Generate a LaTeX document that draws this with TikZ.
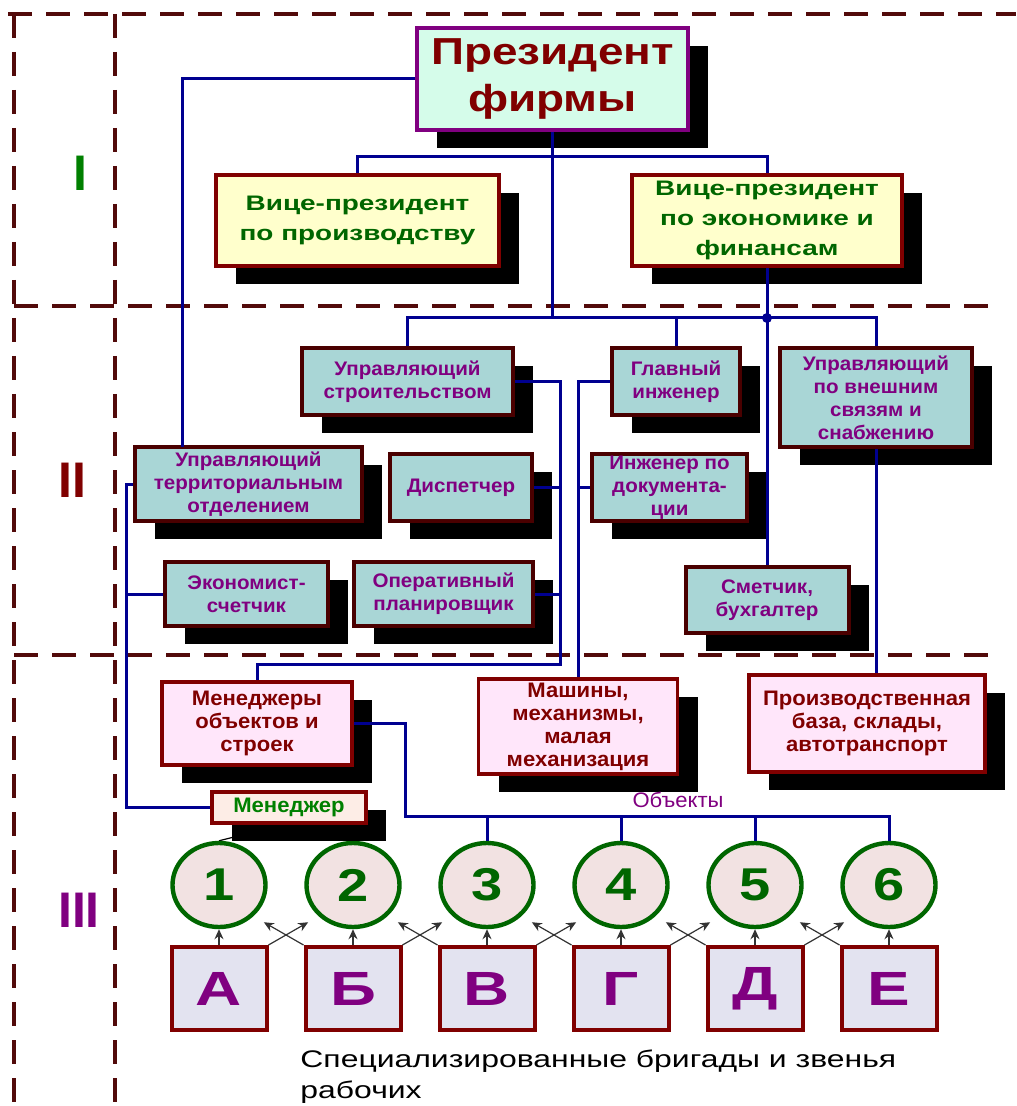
\documentclass[tikz,border=0pt]{standalone}
\usepackage{fontspec}
\setmainfont{Liberation Sans}
\newfontfamily\wideFont[FakeStretch=1.33]{Liberation Sans}
\newfontfamily\topFont[FakeStretch=1.22]{Liberation Sans}
\newfontfamily\midFont[FakeStretch=1.05]{Liberation Sans}
\usepackage{xcolor}
\definecolor{cFrame}{HTML}{520A0A}
\definecolor{cLink}{HTML}{000090}
\definecolor{cMint}{HTML}{D5FCEA}
\definecolor{cPurple}{HTML}{800080}
\definecolor{cDarkRed}{HTML}{800000}
\definecolor{cCream}{HTML}{FFFFCC}
\definecolor{cGreen}{HTML}{006600}
\definecolor{cLeaf}{HTML}{008000}
\definecolor{cTeal}{HTML}{A9D6D6}
\definecolor{cMaroon}{HTML}{4A0000}
\definecolor{cPink}{HTML}{FFE6FA}
\definecolor{cPeach}{HTML}{FDEDE6}
\definecolor{cBlush}{HTML}{F2E2E2}
\definecolor{cLav}{HTML}{E3E3F0}
\usepackage{tikz}
\usetikzlibrary{arrows.meta,shapes.geometric,shadows,backgrounds}
\tikzset{
  sz/.style 2 args={minimum width=#1*0.5pt,minimum height=#2*0.5pt},
  % all boxes carry the same solid black offset shadow
  node-base/.style={rectangle,align=center,inner sep=1pt,
    general shadow={fill=black,shadow xshift=10pt,shadow yshift=-9pt}},
  node-top/.style={node-base,draw=cPurple,line width=1.6pt,fill=cMint,text=cDarkRed,
    font=\topFont\bfseries\fontsize{18.8}{23.5}\selectfont},
  node-vp/.style={node-base,draw=cDarkRed,line width=2pt,fill=cCream,text=cGreen,
    font=\wideFont\bfseries\fontsize{10.5}{15}\selectfont},
  node-staff/.style={node-base,draw=cMaroon,line width=2pt,fill=cTeal,text=cPurple,
    font=\midFont\bfseries\fontsize{9.8}{11.5}\selectfont},
  node-unit/.style={node-base,draw=cDarkRed,line width=1.6pt,fill=cPink,text=cDarkRed,
    font=\midFont\bfseries\fontsize{10.5}{11.5}\selectfont},
  node-mgr/.style={node-base,draw=cDarkRed,line width=1.6pt,fill=cPeach,text=cLeaf,
    font=\midFont\bfseries\fontsize{10.5}{12}\selectfont},
  node-obj/.style={ellipse,draw=cGreen,line width=2.2pt,fill=cBlush,text=cGreen,inner sep=0pt,
    sz={93}{84},font=\topFont\bfseries\fontsize{23}{23}\selectfont},
  node-team/.style={rectangle,draw=cDarkRed,line width=2pt,fill=cLav,text=cPurple,
    sz={95}{83},font=\wideFont\bfseries\fontsize{24}{24}\selectfont},
  node-level/.style={font=\bfseries\fontsize{25}{25}\selectfont},
  frame/.style={draw=cFrame,line width=2pt,dash pattern=on 12pt off 7pt},
  link/.style={draw=cLink,line width=1.5pt},
  arrow-team/.style={-{Stealth[length=5pt,width=4.5pt]},draw=black!80,line width=0.6pt},
}

\begin{document}
\begin{tikzpicture}[x=0.5pt,y=-0.5pt]
  \useasboundingbox (0,0) rectangle (1016,1106);

  \draw[frame] (8,14) -- (1016,14);
  \draw[frame] (14,14) -- (14,1106);
  \draw[frame] (115,14) -- (115,1106);
  \draw[frame] (14,306) -- (995,306);
  \draw[frame] (14,655) -- (1000,655);

  \node[node-level,text=cLeaf] (lvl1) at (80,173) {I};
  \node[node-level,text=cDarkRed] (lvl2) at (72,480) {II};
  \node[node-level,text=cPurple] (lvl3) at (79,910) {III};

  % level I
  \node[node-top,sz={271}{102}] (pres) at (552.5,79) {Президент\\фирмы};
  \node[node-vp,sz={283}{91}] (vpProd) at (357.5,220.5) {Вице-президент\\по производству};
  \node[node-vp,sz={270}{91}] (vpEcon) at (767,220.5) {Вице-президент\\по экономике и\\финансам};

  % level II
  \node[node-staff,sz={211}{67}] (mgrBuild) at (407.5,381.5) {Управляющий\\строительством};
  \node[node-staff,sz={128}{67}] (chiefEng) at (676,381.5) {Главный\\инженер};
  \node[node-staff,sz={192}{99}] (mgrSupply) at (876,397.5) {Управляющий\\по внешним\\связям и\\снабжению};
  \node[node-staff,sz={227}{74}] (mgrTerr) at (248.5,484) {Управляющий\\территориальным\\отделением};
  \node[node-staff,sz={142}{67}] (dispatch) at (461,487.5) {Диспетчер};
  \node[node-staff,sz={155}{67}] (docEng) at (669.5,487.5) {Инженер по\\документа-\\ции};
  \node[node-staff,sz={163}{64}] (econ) at (246.5,594) {Экономист-\\счетчик};
  \node[node-staff,sz={179}{64}] (planner) at (443.5,594) {Оперативный\\планировщик};
  \node[node-staff,sz={163}{66}] (estim) at (767,600) {Сметчик,\\бухгалтер};

  % level III
  \node[node-unit,sz={190}{83}] (siteMgrs) at (257,723.5) {Менеджеры\\объектов и\\строек};
  \node[node-unit,sz={199}{95}] (machines) at (578,726.5) {Машины,\\механизмы,\\малая\\механизация};
  \node[node-unit,sz={236}{97}] (base) at (867,723.5) {Производственная\\база, склады,\\автотранспорт};
  \node[font=\midFont\fontsize{10.5}{12}\selectfont,text=cPurple] (objLabel) at (678,800) {Объекты};

  \foreach \i/\xx/\t in {1/219/А,2/353/Б,3/487/В,4/621/Г,5/755/Д,6/889/Е} {
    \node[node-obj] (o\i) at (\xx,885) {\i};
    \node[node-team] (t\i) at (\xx,988.5) {\t};
  }
  \begin{pgfonlayer}{background}
    \draw[black,line width=0.6pt] (o1.north) -- (289,823) -- (o2.north);
  \end{pgfonlayer}
  \node[node-mgr,sz={154}{31}] (mgr) at (289,807.5) {Менеджер};

  \node[anchor=north west,inner sep=0pt,align=left,
    font=\wideFont\fontsize{12}{15.5}\selectfont] (caption) at (300,1049)
    {Специализированные бригады и звенья\\рабочих};

  % links
  \coordinate (vpBus) at (552.5,157);
  \coordinate (busR) at (876,318);
  \coordinate (trunkA) at (560,664);
  \coordinate (trunkC) at (126,484);
  \coordinate (objBus) at (405,816);
  \coordinate (terrIn) at (182,447);
  \draw[link] (vpProd.north) |- (vpBus) -| (vpEcon.north);
  \draw[link] (pres.south) -- (pres.south |- busR);
  \draw[link] (mgrBuild.north) |- (busR) -- (mgrSupply.north);
  \draw[link] (chiefEng.north) -- (chiefEng.north |- busR);
  \draw[link] (vpEcon.south) -- (estim.north);
  \node[circle,fill=cLink,inner sep=0pt,minimum size=5pt] (jn) at (vpEcon.south |- busR) {};
  \draw[link] (pres.west) -| (terrIn);
  \draw[link] (mgrBuild.east) -| (trunkA) -| (siteMgrs.north);
  \draw[link] (dispatch.east) -- (dispatch.east -| trunkA);
  \draw[link] (planner.east) -- (planner.east -| trunkA);
  \draw[link] (chiefEng.west) -| (machines.north);
  \draw[link] (docEng.west) -- (docEng.west -| machines.north);
  \draw[link] (mgrTerr.west) -- (trunkC) |- (mgr.west);
  \draw[link] (econ.west) -- (econ.west -| trunkC);
  \draw[link] (mgrSupply.south) -- (mgrSupply.south |- base.north);
  \draw[link] (siteMgrs.east) -| (objBus) -| (o6.north);
  \foreach \i in {3,4,5}
    \draw[link] (o\i.north) -- (o\i.north |- objBus);

  \foreach \i in {1,...,6}
    \draw[arrow-team] (t\i.north) -- (o\i.south);
  \foreach \i [count=\j from 2] in {1,...,5} {
    \draw[arrow-team,shorten >=6pt] (t\i.north east) -- (o\j.south west);
    \draw[arrow-team,shorten >=6pt] (t\j.north west) -- (o\i.south east);
  }
\end{tikzpicture}
\end{document}
